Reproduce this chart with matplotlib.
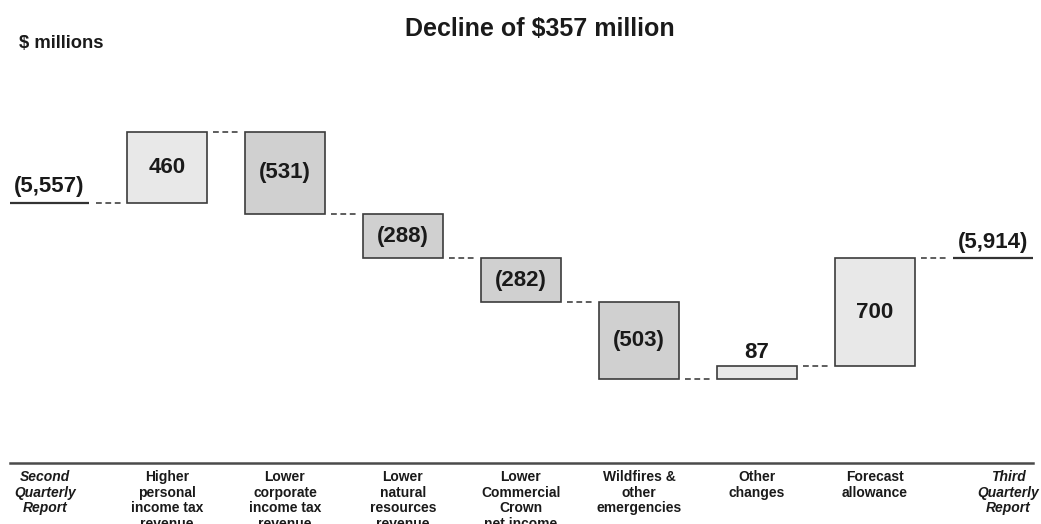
import matplotlib
matplotlib.use("Agg")
import matplotlib.pyplot as plt
import matplotlib.transforms as mtransforms

# ---- data ----
categories = [
    "Second\nQuarterly\nReport",
    "Higher\npersonal\nincome tax\nrevenue",
    "Lower\ncorporate\nincome tax\nrevenue",
    "Lower\nnatural\nresources\nrevenue",
    "Lower\nCommercial\nCrown\nnet income",
    "Wildfires &\nother\nemergencies",
    "Other\nchanges",
    "Forecast\nallowance",
    "Third\nQuarterly\nReport",
]
start_value = -5557
end_value = -5914
changes = [460, -531, -288, -282, -503, 87, 700]
change_labels = ["460", "(531)", "(288)", "(282)", "(503)", "87", "700"]
start_label = "(5,557)"
end_label = "(5,914)"
title = "Decline of $357 million"
unit_label = "$ millions"

# ---- style ----
FONT = "Liberation Sans"
plt.rcParams["font.family"] = [FONT, "DejaVu Sans"]
pos_color = "#e8e8e8"
neg_color = "#d0d0d0"
edge_color = "#3c3c3c"
text_color = "#1a1a1a"
conn_color = "#505050"

W, H = 1041, 524
fig = plt.figure(figsize=(W / 100, H / 100), dpi=100)
ax = fig.add_axes([10 / W, (H - 463) / H, 1023 / W, 463 / H])

px_per_unit = 0.1543
top_val = -5097 + 132 / px_per_unit
bot_val = -5097 - (463 - 132) / px_per_unit
ax.set_ylim(bot_val, top_val)
ax.set_xlim((10 - 49) / 118, (1033 - 49) / 118)

bar_w = 0.67
line_w = 0.68
gap = 0.055
val_fs = 16

# start line
ax.hlines(start_value, 0 - line_w / 2, 0 + line_w / 2, color="#333333", lw=1.6)
ax.annotate(start_label, (0, start_value), xytext=(0, 4), textcoords="offset points",
            ha="center", va="bottom", fontsize=val_fs, fontweight="bold", color=text_color)

level = start_value
prev_right = 0 + line_w / 2
for i, (c, lab) in enumerate(zip(changes, change_labels)):
    x = i + 1
    ax.plot([prev_right + gap, x - bar_w / 2 - gap], [level, level],
            color=conn_color, lw=1.3, dashes=(3.2, 2.0))
    col = pos_color if c > 0 else neg_color
    ax.bar(x, c, bottom=level, width=bar_w, color=col, edgecolor=edge_color, linewidth=1.2)
    if abs(c) > 150:
        ax.text(x, level + c / 2, lab, ha="center", va="center", fontsize=val_fs,
                fontweight="bold", color=text_color)
    else:
        ax.annotate(lab, (x, max(level, level + c)), xytext=(0, 2), textcoords="offset points",
                    ha="center", va="bottom", fontsize=val_fs, fontweight="bold", color=text_color)
    level += c
    prev_right = x + bar_w / 2

xe = len(changes) + 1
ax.plot([prev_right + gap, xe - line_w / 2 - gap], [level, level],
        color=conn_color, lw=1.3, dashes=(3.2, 2.0))
ax.hlines(end_value, xe - line_w / 2, xe + line_w / 2, color="#333333", lw=1.6)
ax.annotate(end_label, (xe, end_value), xytext=(0, 4), textcoords="offset points",
            ha="center", va="bottom", fontsize=val_fs, fontweight="bold", color=text_color)

# axes styling
for s in ["top", "left", "right"]:
    ax.spines[s].set_visible(False)
ax.spines["bottom"].set_color("#4a4a4a")
ax.spines["bottom"].set_linewidth(1.8)
ax.set_yticks([])
ax.set_xticks(range(len(categories)))
ax.set_xticklabels(categories, fontsize=10, fontweight="bold", color=text_color,
                   linespacing=1.16, va="top")
ax.tick_params(axis="x", length=0, pad=5)
labels = ax.get_xticklabels()
labels[0].set_fontstyle("italic")
labels[-1].set_fontstyle("italic")
labels[0].set_transform(labels[0].get_transform() +
                        mtransforms.ScaledTranslation(-4 / 100, 0, fig.dpi_scale_trans))
labels[-1].set_transform(labels[-1].get_transform() +
                         mtransforms.ScaledTranslation(15 / 100, 0, fig.dpi_scale_trans))

fig.text(540 / W, 1 - 29 / H, title, ha="center", va="center", fontsize=18,
         fontweight="bold", color=text_color)
fig.text(19 / W, 1 - 44 / H, unit_label, ha="left", va="center", fontsize=13.2,
         fontweight="bold", color=text_color)

fig.savefig("out.png", dpi=100)
